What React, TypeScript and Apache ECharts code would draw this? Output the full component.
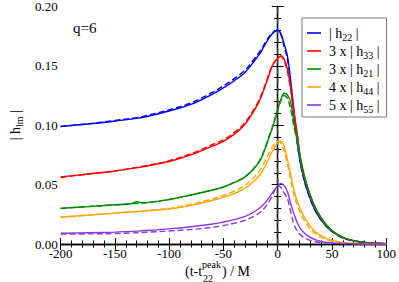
import React, { useEffect, useRef } from "react";
import * as echarts from "echarts";

const times = [-200, -175, -150, -135, -130, -125, -100, -80, -60, -50, -40, -30, -20, -15, -10, -5, 0, 3, 6, 9, 12, 15, 18, 21, 25, 30, 35, 40, 45, 50, 60, 70, 80, 90, 100];

const h22Solid = [0.0990, 0.1010, 0.1035, 0.1052, 0.1058, 0.1065, 0.1120, 0.1175, 0.1262, 0.1315, 0.1375, 0.1447, 0.1560, 0.1625, 0.1705, 0.1770, 0.1800, 0.1770, 0.1680, 0.1580, 0.1370, 0.1120, 0.0860, 0.0680, 0.0520, 0.0380, 0.0275, 0.0205, 0.0148, 0.0105, 0.0052, 0.0026, 0.0013, 0.0006, 0.0003];
const h22Dashed = [0.0990, 0.1012, 0.1040, 0.1058, 0.1064, 0.1072, 0.1130, 0.1188, 0.1278, 0.1332, 0.1393, 0.1465, 0.1578, 0.1640, 0.1718, 0.1778, 0.1800, 0.1760, 0.1660, 0.1555, 0.1345, 0.1100, 0.0850, 0.0672, 0.0515, 0.0376, 0.0272, 0.0202, 0.0146, 0.0103, 0.0051, 0.0025, 0.0012, 0.0006, 0.0003];

const h33Solid = [0.0565, 0.0590, 0.0615, 0.0635, 0.0642, 0.0650, 0.0695, 0.0750, 0.0825, 0.0865, 0.0925, 0.1010, 0.1150, 0.1245, 0.1370, 0.1500, 0.1565, 0.1585, 0.1555, 0.1470, 0.1310, 0.1110, 0.0930, 0.0720, 0.0550, 0.0410, 0.0300, 0.0222, 0.0160, 0.0113, 0.0056, 0.0027, 0.0013, 0.0006, 0.0003];
const h33Dashed = [0.0560, 0.0588, 0.0615, 0.0637, 0.0645, 0.0653, 0.0702, 0.0760, 0.0838, 0.0878, 0.0940, 0.1025, 0.1165, 0.1258, 0.1382, 0.1505, 0.1565, 0.1578, 0.1540, 0.1450, 0.1290, 0.1095, 0.0915, 0.0710, 0.0545, 0.0405, 0.0296, 0.0219, 0.0158, 0.0111, 0.0055, 0.0027, 0.0013, 0.0006, 0.0003];

const h21Solid = [0.0300, 0.0315, 0.0330, 0.0339, 0.0356, 0.0347, 0.0375, 0.0413, 0.0455, 0.0480, 0.0518, 0.0565, 0.0655, 0.0725, 0.0845, 0.0975, 0.1130, 0.1220, 0.1270, 0.1255, 0.1190, 0.1020, 0.0885, 0.0725, 0.0560, 0.0408, 0.0298, 0.0216, 0.0156, 0.0111, 0.0055, 0.0027, 0.0013, 0.0006, 0.0003];
const h21Dashed = [0.0300, 0.0315, 0.0330, 0.0339, 0.0341, 0.0343, 0.0375, 0.0413, 0.0455, 0.0480, 0.0518, 0.0567, 0.0660, 0.0732, 0.0855, 0.0985, 0.1130, 0.1210, 0.1250, 0.1225, 0.1130, 0.0985, 0.0860, 0.0705, 0.0548, 0.0400, 0.0293, 0.0213, 0.0154, 0.0110, 0.0054, 0.0027, 0.0013, 0.0006, 0.0003];

const h44Solid = [0.0227, 0.0243, 0.0260, 0.0270, 0.0273, 0.0277, 0.0295, 0.0325, 0.0368, 0.0395, 0.0425, 0.0470, 0.0545, 0.0600, 0.0685, 0.0780, 0.0850, 0.0865, 0.0820, 0.0710, 0.0580, 0.0450, 0.0360, 0.0290, 0.0220, 0.0150, 0.0100, 0.0070, 0.0045, 0.0030, 0.0012, 0.0005, 0.0002, 0.0001, 0.0000];
const h44Dashed = [0.0225, 0.0242, 0.0260, 0.0271, 0.0274, 0.0278, 0.0300, 0.0335, 0.0380, 0.0410, 0.0445, 0.0495, 0.0580, 0.0640, 0.0730, 0.0815, 0.0865, 0.0850, 0.0780, 0.0670, 0.0540, 0.0415, 0.0325, 0.0260, 0.0190, 0.0125, 0.0082, 0.0055, 0.0037, 0.0025, 0.0010, 0.0004, 0.0002, 0.0001, 0.0000];

const h55Solid = [0.0090, 0.0095, 0.0100, 0.0106, 0.0108, 0.0111, 0.0127, 0.0145, 0.0168, 0.0185, 0.0205, 0.0232, 0.0280, 0.0315, 0.0365, 0.0430, 0.0490, 0.0510, 0.0490, 0.0440, 0.0340, 0.0250, 0.0180, 0.0130, 0.0088, 0.0055, 0.0035, 0.0022, 0.0014, 0.0009, 0.0004, 0.0002, 0.0001, 0.0000, 0.0000];
const h55Dashed = [0.0083, 0.0085, 0.0088, 0.0093, 0.0095, 0.0097, 0.0110, 0.0122, 0.0140, 0.0155, 0.0175, 0.0200, 0.0242, 0.0277, 0.0328, 0.0405, 0.0490, 0.0475, 0.0430, 0.0380, 0.0270, 0.0165, 0.0110, 0.0076, 0.0050, 0.0030, 0.0019, 0.0012, 0.0008, 0.0005, 0.0002, 0.0001, 0.0000, 0.0000, 0.0000];

const modeNames = ["h22", "h33", "h21", "h44", "h55"];
const modeLabels = ["", "3 x ", "3 x ", "4 x ", "5 x "];
const modeSubs = ["22", "33", "21", "44", "55"];
const modeColors = ["#0000ff", "#ff0000", "#008c00", "#ffa500", "#8a3ad8"];
const solidData = [h22Solid, h33Solid, h21Solid, h44Solid, h55Solid];
const dashedData = [h22Dashed, h33Dashed, h21Dashed, h44Dashed, h55Dashed];

const xTicks = { min: -200, max: 100, interval: 50 };
const yTicks = { min: 0, max: 0.2, interval: 0.05 };

const FONT = "Liberation Serif";

export default function App() {
  const ref = useRef<HTMLDivElement>(null);
  useEffect(() => {
    if (!ref.current) return;
    const chart = echarts.init(ref.current, null, { renderer: "svg" });
    const pair = (arr: number[]) => times.map((t, i) => [t, arr[i]]);
    const series: any[] = [];
    modeNames.forEach((name, k) => {
      series.push({
        name,
        type: "line",
        data: pair(solidData[k]),
        smooth: 0.35,
        showSymbol: false,
        lineStyle: { color: modeColors[k], width: 1.4 },
        itemStyle: { color: modeColors[k] },
        z: 3,
      });
      series.push({
        name: name + "_model",
        type: "line",
        data: pair(dashedData[k]),
        smooth: 0.35,
        showSymbol: false,
        lineStyle: { color: modeColors[k], width: 1.4, type: [6, 3] },
        itemStyle: { color: modeColors[k] },
        z: 3,
      });
    });
    series.push({
      name: "peak",
      type: "line",
      data: [[0, yTicks.min], [0, yTicks.max]],
      showSymbol: false,
      lineStyle: { color: "#444", width: 1.2, type: [6, 4] },
      z: 2,
    });

    const rich = {
      n: { fontFamily: FONT, fontSize: 14, color: "#000", lineHeight: 18, verticalAlign: "middle" },
      s: { fontFamily: FONT, fontSize: 10, color: "#000", lineHeight: 9, verticalAlign: "bottom" },
    };

    const axisCommon = {
      type: "value",
      axisLine: { show: true, lineStyle: { color: "#000", width: 1.3 } },
      axisTick: { show: true, inside: true, length: 6, lineStyle: { color: "#000", width: 1 } },
      minorTick: { show: true, splitNumber: 5, length: 3.5, lineStyle: { color: "#000", width: 1 } },
      splitLine: { show: false },
    };

    const txt = (text: string, x: number, y: number, size: number) => ({
      type: "text",
      x,
      y,
      style: { text, font: `${size}px ${FONT}`, fill: "#000", verticalAlign: "middle", align: "left" },
    });

    chart.setOption({
      animation: false,
      backgroundColor: "#fff",
      textStyle: { fontFamily: FONT },
      grid: { left: 45, right: 11, top: 5, bottom: 38 },
      xAxis: [
        {
          ...axisCommon,
          position: "bottom",
          min: xTicks.min,
          max: xTicks.max,
          interval: xTicks.interval,
          axisLabel: { fontFamily: FONT, fontSize: 13, color: "#000", margin: 3 },
        },
        {
          ...axisCommon,
          position: "top",
          min: xTicks.min,
          max: xTicks.max,
          interval: xTicks.interval,
          axisLabel: { show: false },
        },
      ],
      yAxis: [
        {
          ...axisCommon,
          position: "left",
          min: yTicks.min,
          max: yTicks.max,
          interval: yTicks.interval,
          axisLabel: {
            fontFamily: FONT,
            fontSize: 13,
            color: "#000",
            margin: 3,
            formatter: (v: number) => v.toFixed(2),
          },
          name: "{n|| h}{s|lm}{n| |}",
          nameLocation: "middle",
          nameRotate: 90,
          nameGap: 29,
          nameTextStyle: { rich },
        },
        {
          ...axisCommon,
          position: "right",
          min: yTicks.min,
          max: yTicks.max,
          interval: yTicks.interval,
          axisLabel: { show: false },
        },
      ],
      legend: {
        orient: "vertical",
        left: 302,
        top: 18,
        data: modeNames,
        icon: "rect",
        itemWidth: 14,
        itemHeight: 1.6,
        itemGap: 2,
        padding: [8, 7, 3, 5],
        borderColor: "#777",
        borderWidth: 1,
        backgroundColor: "#fff",
        selectedMode: false,
        formatter: (name: string) => {
          const k = modeNames.indexOf(name);
          return `{n|${modeLabels[k]}| h}{s|${modeSubs[k]}}{n| |}`;
        },
        textStyle: { fontFamily: FONT, rich, padding: [0, 0, 0, 3] },
      },
      graphic: [
        txt("q=6", 73, 28, 15),
        txt("(t-t", 185, 271, 14),
        txt("peak", 202, 264, 10),
        txt("22", 203, 278, 10),
        txt(") / M", 222, 271, 14),
      ],
      series,
    });
    return () => chart.dispose();
  }, []);
  return (
    <div
      ref={ref}
      style={{ position: "fixed", left: 0, top: 0, width: 399, height: 282, background: "#fff" }}
    />
  );
}
